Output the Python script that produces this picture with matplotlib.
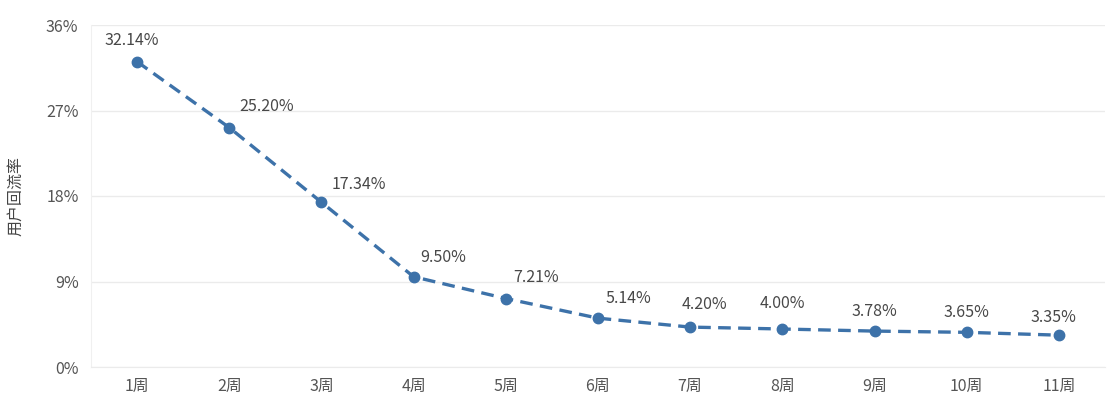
import matplotlib
matplotlib.use("Agg")
import matplotlib.pyplot as plt
from matplotlib.ticker import FuncFormatter

plt.rcParams['font.family'] = ['Noto Sans CJK SC', 'DejaVu Sans']

weeks = ["1周", "2周", "3周", "4周", "5周", "6周", "7周", "8周", "9周", "10周", "11周"]
rates = [32.14, 25.20, 17.34, 9.50, 7.21, 5.14, 4.20, 4.00, 3.78, 3.65, 3.35]
y_ticks = [0, 9, 18, 27, 36]

# label offsets in points (dx, dy) so labels sit like the original
label_offsets = [(-4, 15), (27, 15), (27, 13), (21, 14), (22, 15), (22, 14),
                 (10, 16), (0, 18), (0, 14), (0, 14), (-4, 13)]

line_color = "#3d72a9"
text_color = "#555555"

fig = plt.figure(figsize=(11.08, 4.08), dpi=100)
ax = fig.add_axes([91 / 1108, 1 - 367 / 408, (1105 - 91) / 1108, (367 - 25) / 408])

x = list(range(1, len(weeks) + 1))
ax.plot(x, rates, color=line_color, linewidth=2.4, linestyle=(0, (3.8, 2.2)),
        marker="o", markersize=7.5, zorder=3)

for xi, r, (dx, dy) in zip(x, rates, label_offsets):
    ax.annotate(f"{r:.2f}%", (xi, r), xytext=(dx, dy), textcoords="offset points",
                ha="center", va="center", fontsize=11.5, color="#484848")

ax.set_xlim(0.5, len(weeks) + 0.5)
ax.set_ylim(0, 36)
ax.set_yticks(y_ticks)
ax.yaxis.set_major_formatter(FuncFormatter(lambda v, p: f"{v:.0f}%"))
ax.set_xticks(x)
ax.set_xticklabels(weeks)
ax.tick_params(axis="both", length=0, labelsize=11.5, labelcolor=text_color)
ax.tick_params(axis="x", pad=8)
ax.tick_params(axis="y", pad=9)

ax.grid(axis="y", color="#ebebeb", linewidth=1)
ax.set_axisbelow(True)
for side in ["top", "right"]:
    ax.spines[side].set_visible(False)
ax.spines["left"].set_color("#f0f0f0")
ax.spines["bottom"].set_color("#ebebeb")

ax.set_ylabel("用户回流率", fontsize=11.5, color="#444444", labelpad=16)

fig.savefig("out.png", dpi=100, facecolor="white")
